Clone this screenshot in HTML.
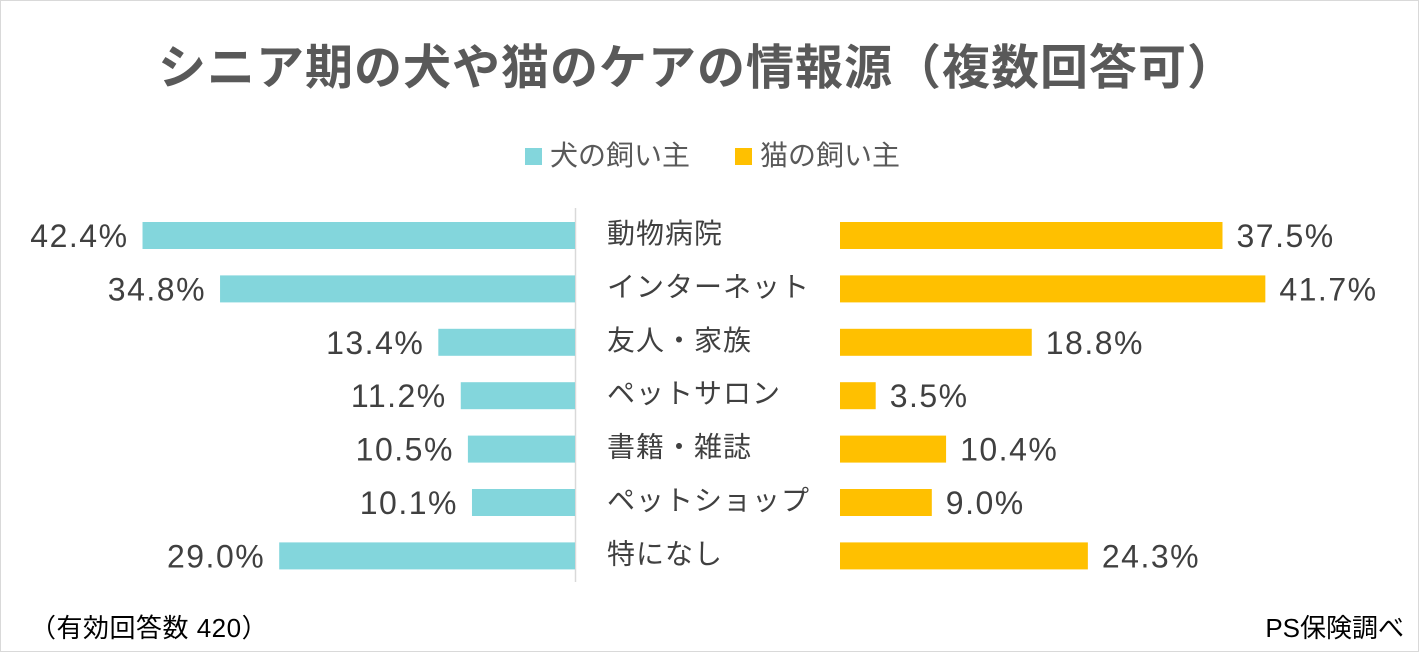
<!DOCTYPE html>
<html><head><meta charset="utf-8"><style>
html,body{margin:0;padding:0;background:#fff}
svg{display:block}
text{font-family:"Liberation Sans","Noto Sans CJK JP",sans-serif}
</style></head><body>
<svg id="chart" width="1419" height="652" viewBox="0 0 1419 652">
<rect x="0.5" y="0.5" width="1418" height="651" fill="#fff" stroke="#d9d9d9"/>
<text x="697" y="84" text-anchor="middle" font-size="48" font-weight="bold" letter-spacing="1" fill="#595959">シニア期の犬や猫のケアの情報源（複数回答可）</text>
<g>
<rect x="525" y="148" width="17" height="17" fill="#83d6dc"/>
<text x="550" y="165" font-size="28" fill="#595959">犬の飼い主</text>
<rect x="735" y="148" width="17" height="17" fill="#ffc000"/>
<text x="760" y="165" font-size="28" fill="#595959">猫の飼い主</text>
</g>
<line x1="575.5" y1="208" x2="575.5" y2="582" stroke="#d9d9d9" stroke-width="1.5"/>
<g id="marks"></g>
<text x="30" y="637" font-size="26" letter-spacing="0.5" fill="#000">（有効回答数 420）</text>
<text x="1404" y="637" text-anchor="end" font-size="26" fill="#000">PS保険調べ</text>
</svg>
<script>
const categories = ["動物病院","インターネット","友人・家族","ペットサロン","書籍・雑誌","ペットショップ","特になし"];
const dogValues = [42.4,34.8,13.4,11.2,10.5,10.1,29.0];
const catValues = [37.5,41.7,18.8,3.5,10.4,9.0,24.3];

const NS = "http://www.w3.org/2000/svg";
const g = document.getElementById("marks");
const scale = v => v * 10.2;
const rowY = i => 222 + i * 53.4;
const barH = 27;
function mk(tag, attrs){const e=document.createElementNS(NS,tag);for(const k in attrs)e.setAttribute(k,attrs[k]);return e;}
categories.forEach((c,i)=>{
  const y = rowY(i);
  const dw = scale(dogValues[i]);
  const db = mk("rect",{x:575-dw,y:y,width:dw,height:barH,fill:"#83d6dc"});
  
  
  g.appendChild(db);
  const dl = mk("text",{x:575-dw-14,y:y+25,"text-anchor":"end","font-size":"32","letter-spacing":"1.5",fill:"#404040"});
  dl.textContent = dogValues[i].toFixed(1)+"%";
  
  
  g.appendChild(dl);
  const cl = mk("text",{x:607,y:y+21,"font-size":"28","letter-spacing":"1",fill:"#404040"});
  cl.textContent = c;
  
  
  g.appendChild(cl);
  const cw = scale(catValues[i]);
  const cb = mk("rect",{x:840,y:y,width:cw,height:barH,fill:"#ffc000"});
  
  
  g.appendChild(cb);
  const vl = mk("text",{x:840+cw+14,y:y+25,"font-size":"32","letter-spacing":"1.5",fill:"#404040"});
  vl.textContent = catValues[i].toFixed(1)+"%";
  
  
  g.appendChild(vl);
});
</script>
</body></html>
